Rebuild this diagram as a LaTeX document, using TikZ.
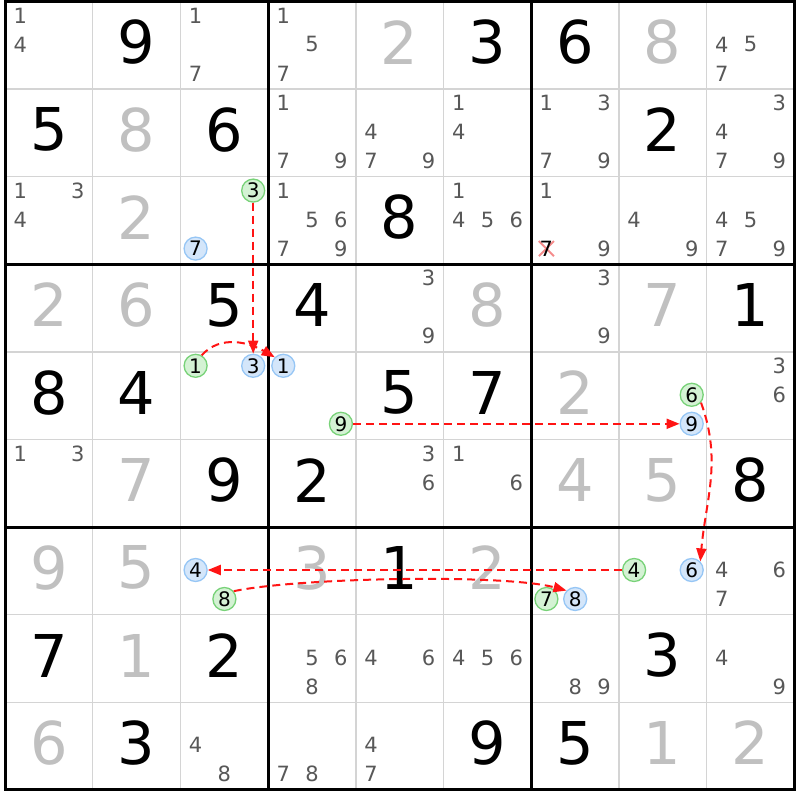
\documentclass[tikz,border=0pt]{standalone}
\usepackage{fontspec}
\newfontfamily\dv{DejaVu Sans}
\usetikzlibrary{arrows.meta}
\definecolor{candc}{RGB}{88,88,88}
\definecolor{givenc}{RGB}{192,192,192}
\definecolor{thinc}{RGB}{212,212,212}
\definecolor{gfill}{RGB}{212,242,212}
\definecolor{gline}{RGB}{120,210,120}
\definecolor{bfill}{RGB}{212,230,250}
\definecolor{bline}{RGB}{150,198,245}
\definecolor{arrc}{RGB}{255,20,20}
\definecolor{xc}{RGB}{245,140,140}
\newcommand\candX[2]{(5+87.7*(#1)+15.2+28.8*mod((#2)-1,3))}
\newcommand\candY[2]{(798.5-87.6*(#1)-13.9-29*div((#2)-1,3))}
\newcommand\cands[3]{\foreach \d in {#3}{\node[cand] (k-#1-#2-\d) at ({\candX{#2}{\d}},{\candY{#1}{\d}}) {\d};}}
\newcommand\bigd[4]{\node[#4] (v-#1-#2) at ({5+87.7*(#2+0.5)},{798.5-87.6*(#1+0.5)+3}) {#3};}
\newcommand\hl[5]{\node[#4] (#5) at ({\candX{#2}{#3}},{\candY{#1}{#3}}) {#3};}
\tikzset{
  cand/.style={font=\dv\fontsize{21}{21}\selectfont, text=candc, inner sep=0pt},
  givend/.style={font=\dv\fontsize{59}{59}\selectfont, text=givenc, inner sep=0pt},
  solvedd/.style={font=\dv\fontsize{59}{59}\selectfont, text=black, inner sep=0pt},
  hlbase/.style={circle, line width=1.3pt, minimum size=23pt, inner sep=0pt, font=\dv\fontsize{20}{20}\selectfont, text=black},
  gcirc/.style={hlbase, draw=gline, fill=gfill},
  bcirc/.style={hlbase, draw=bline, fill=bfill},
  thinline/.style={draw=thinc, line width=1.5pt},
  thickline/.style={draw=black, line width=3pt, line cap=rect},
  arr/.style={draw=arrc, line width=2pt, dash pattern=on 8pt off 5pt, -{Triangle[length=13pt,width=10pt]}},
  crossmark/.style={draw=xc, line width=2pt}
}
\begin{document}
\begin{tikzpicture}[x=1pt,y=1pt]
\useasboundingbox (0,0) rectangle (800,800);
\fill[white] (0,0) rectangle (800,800);
% grid
\foreach \i in {1,2,4,5,7,8}{
  \draw[thinline] ({5+87.7*\i},798.5) -- ({5+87.7*\i},10.1);
  \draw[thinline] (5,{798.5-87.6*\i}) -- (794.3,{798.5-87.6*\i});
}
\foreach \i in {0,3,6,9}{
  \draw[thickline] ({5+87.7*\i},798.5) -- ({5+87.7*\i},10.1);
  \draw[thickline] (5,{798.5-87.6*\i}) -- (794.3,{798.5-87.6*\i});
}
% given digits
\bigd{0}{4}{2}{givend} \bigd{0}{7}{8}{givend} \bigd{1}{1}{8}{givend}
\bigd{2}{1}{2}{givend} \bigd{3}{0}{2}{givend} \bigd{3}{1}{6}{givend}
\bigd{3}{5}{8}{givend} \bigd{3}{7}{7}{givend} \bigd{4}{6}{2}{givend}
\bigd{5}{1}{7}{givend} \bigd{5}{6}{4}{givend} \bigd{5}{7}{5}{givend}
\bigd{6}{0}{9}{givend} \bigd{6}{1}{5}{givend} \bigd{6}{3}{3}{givend}
\bigd{6}{5}{2}{givend} \bigd{7}{1}{1}{givend} \bigd{8}{0}{6}{givend}
\bigd{8}{7}{1}{givend} \bigd{8}{8}{2}{givend}
% solved digits
\bigd{0}{1}{9}{solvedd} \bigd{0}{5}{3}{solvedd} \bigd{0}{6}{6}{solvedd}
\bigd{1}{0}{5}{solvedd} \bigd{1}{2}{6}{solvedd} \bigd{1}{7}{2}{solvedd}
\bigd{2}{4}{8}{solvedd} \bigd{3}{2}{5}{solvedd} \bigd{3}{3}{4}{solvedd}
\bigd{3}{8}{1}{solvedd} \bigd{4}{0}{8}{solvedd} \bigd{4}{1}{4}{solvedd}
\bigd{4}{4}{5}{solvedd} \bigd{4}{5}{7}{solvedd} \bigd{5}{2}{9}{solvedd}
\bigd{5}{3}{2}{solvedd} \bigd{5}{8}{8}{solvedd} \bigd{6}{4}{1}{solvedd}
\bigd{7}{0}{7}{solvedd} \bigd{7}{2}{2}{solvedd} \bigd{7}{7}{3}{solvedd}
\bigd{8}{1}{3}{solvedd} \bigd{8}{5}{9}{solvedd} \bigd{8}{6}{5}{solvedd}
% candidates
\cands{0}{0}{1,4} \cands{0}{2}{1,7} \cands{0}{3}{1,5,7} \cands{0}{8}{4,5,7}
\cands{1}{3}{1,7,9} \cands{1}{4}{4,7,9} \cands{1}{5}{1,4} \cands{1}{6}{1,3,7,9} \cands{1}{8}{3,4,7,9}
\cands{2}{0}{1,3,4} \cands{2}{3}{1,5,6,7,9} \cands{2}{5}{1,4,5,6} \cands{2}{6}{1,9} \cands{2}{7}{4,9} \cands{2}{8}{4,5,7,9}
\cands{3}{4}{3,9} \cands{3}{6}{3,9}
\cands{4}{8}{3,6}
\cands{5}{0}{1,3} \cands{5}{4}{3,6} \cands{5}{5}{1,6}
\cands{6}{8}{4,6,7}
\cands{7}{3}{5,6,8} \cands{7}{4}{4,6} \cands{7}{5}{4,5,6} \cands{7}{6}{8,9} \cands{7}{8}{4,9}
\cands{8}{2}{4,8} \cands{8}{3}{7,8} \cands{8}{4}{4,7}
% eliminated candidate
\coordinate (xk) at ({\candX{6}{7}},{\candY{2}{7}});
\draw[crossmark] ([shift={(-7.5,-7.5)}]xk) -- ([shift={(7.5,7.5)}]xk);
\draw[crossmark] ([shift={(-7.5,7.5)}]xk) -- ([shift={(7.5,-7.5)}]xk);
\node[cand, text=black] (k-2-6-7) at (xk) {7};
% highlighted candidates
\hl{2}{2}{3}{gcirc}{ga} \hl{2}{2}{7}{bcirc}{bz}
\hl{4}{2}{1}{gcirc}{gb} \hl{4}{2}{3}{bcirc}{ba}
\hl{4}{3}{1}{bcirc}{bb} \hl{4}{3}{9}{gcirc}{gc}
\hl{4}{7}{6}{gcirc}{gd} \hl{4}{7}{9}{bcirc}{bc}
\hl{6}{7}{4}{gcirc}{ge} \hl{6}{7}{6}{bcirc}{bd}
\hl{6}{2}{4}{bcirc}{be} \hl{6}{2}{8}{gcirc}{gf}
\hl{6}{6}{7}{gcirc}{gg} \hl{6}{6}{8}{bcirc}{bf}
% chain
\draw[arr] (ga) -- (ba);
\draw[arr] (gb.60) to[out=48, in=150] (bb.135);
\draw[arr] (gc) -- (bc);
\draw[arr] (gd.-40) to[out=-70, in=85] (bd.45);
\draw[arr] (ge) -- (be);
\draw[arr] (gf.40) to[out=12, in=165, looseness=0.5] (bf.136);
\end{tikzpicture}
\end{document}
